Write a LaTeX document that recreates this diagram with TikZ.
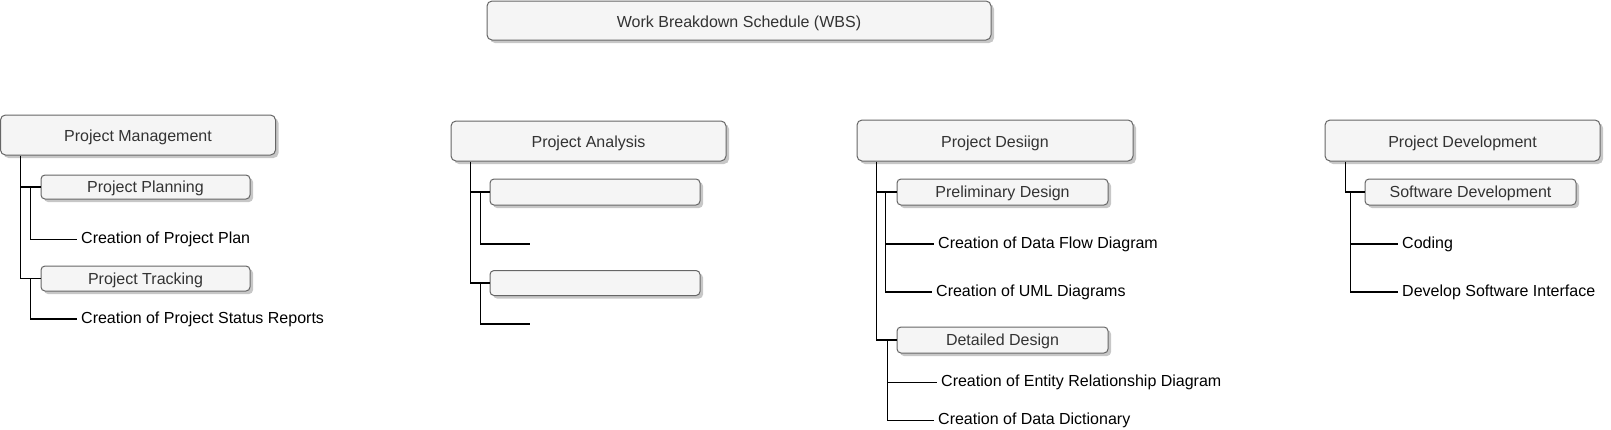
\documentclass[tikz,border=0pt]{standalone}
\usepackage{fontspec}
\setmainfont{Liberation Sans}
\usetikzlibrary{shadows}
\definecolor{boxfill}{HTML}{F5F5F5}
\definecolor{boxline}{HTML}{666666}
\definecolor{boxtext}{HTML}{333333}
\begin{document}
\begin{tikzpicture}[x=1pt,y=-1pt,
  font=\fontsize{16}{19}\selectfont,
  wbox/.style={draw=boxline, fill=boxfill, text=boxtext, line width=1pt, rounded corners=5pt,
    inner sep=0pt, text height=16.4pt, text depth=3.4pt,
    drop shadow={shadow xshift=3pt, shadow yshift=-3pt, fill=black, opacity=0.22}},
  big/.style={wbox, minimum width=275pt, minimum height=40pt},
  small/.style={wbox, minimum width=210pt, minimum height=25pt, rounded corners=4pt,
    text height=14.8pt, text depth=3.4pt},
  leaf/.style={anchor=west, inner xsep=4pt, inner ysep=0pt, text=black,
    text height=12.2pt, text depth=3.4pt},
  conn/.style={draw=black, line width=1.2pt}
]
\useasboundingbox (0,0) rectangle (1611,429);

% top
\node[wbox, minimum width=504pt, minimum height=39pt] (wbs) at (739,20.5) {Work Breakdown Schedule (WBS)};

% Project Management
\node[big] (pm) at (138,135) {Project Management};
\node[small, minimum width=209pt, minimum height=24pt] (pp) at (145.5,187) {Project Planning};
\node[small, minimum width=209pt, minimum height=25pt] (pt) at (145.5,278.5) {Project Tracking};
\node[leaf] (cpp) at (77,239.5) {Creation of Project Plan};
\node[leaf] (cps) at (77,319) {Creation of Project Status Reports};
\draw[conn] ([xshift=20.5pt]pm.south west) |- (pt.west);
\draw[conn] ([xshift=20.5pt]pm.south west |- pp.west) -- (pp.west);
\draw[conn] ([xshift=-10pt]pp.west) |- (cpp.west);
\draw[conn] ([xshift=-10pt]pt.west) |- (cps.west);

% Project Analysis
\node[big] (pa) at (588.5,141) {Project Analysis};
\node[small, minimum height=26pt] (a1) at (595,192) {};
\node[small] (a2) at (595,283) {};
\coordinate (a1e) at (530,244);
\coordinate (a2e) at (530,324);
\draw[conn] ([xshift=20pt]pa.south west) |- (a2.west);
\draw[conn] ([xshift=20pt]pa.south west |- a1.west) -- (a1.west);
\draw[conn] ([xshift=-9pt]a1.west) |- (a1e);
\draw[conn] ([xshift=-9pt]a2.west) |- (a2e);

% Project Desiign
\node[big, minimum width=276pt, minimum height=41pt] (pds) at (995,140.5) {Project Desiign};
\node[small, minimum width=211pt, minimum height=26pt] (pre) at (1002.5,192) {Preliminary Design};
\node[small, minimum width=211pt, minimum height=26pt] (det) at (1002.5,340) {Detailed Design};
\node[leaf] (dfd) at (934,244) {Creation of Data Flow Diagram};
\node[leaf] (uml) at (932,292) {Creation of UML Diagrams};
\node[leaf] (erd) at (937,382.5) {Creation of Entity Relationship Diagram};
\node[leaf] (ddc) at (934,420.5) {Creation of Data Dictionary};
\draw[conn] ([xshift=20pt]pds.south west) |- (det.west);
\draw[conn] ([xshift=20pt]pds.south west |- pre.west) -- (pre.west);
\draw[conn] ([xshift=-11pt]pre.west) |- (uml.west);
\draw[conn] ([xshift=-11pt]pre.west |- dfd.west) -- (dfd.west);
\draw[conn] ([xshift=-9pt]det.west) |- (ddc.west);
\draw[conn] ([xshift=-9pt]det.west |- erd.west) -- (erd.west);

% Project Development
\node[big, minimum height=41pt] (pdv) at (1462.5,140.5) {Project Development};
\node[small, minimum width=211pt, minimum height=26pt] (sd) at (1470.5,192) {Software Development};
\node[leaf] (cod) at (1398,244) {Coding};
\node[leaf] (dsi) at (1398,292) {Develop Software Interface};
\draw[conn] ([xshift=21pt]pdv.south west) |- (sd.west);
\draw[conn] ([xshift=-14pt]sd.west) |- (dsi.west);
\draw[conn] ([xshift=-14pt]sd.west |- cod.west) -- (cod.west);
\end{tikzpicture}
\end{document}
